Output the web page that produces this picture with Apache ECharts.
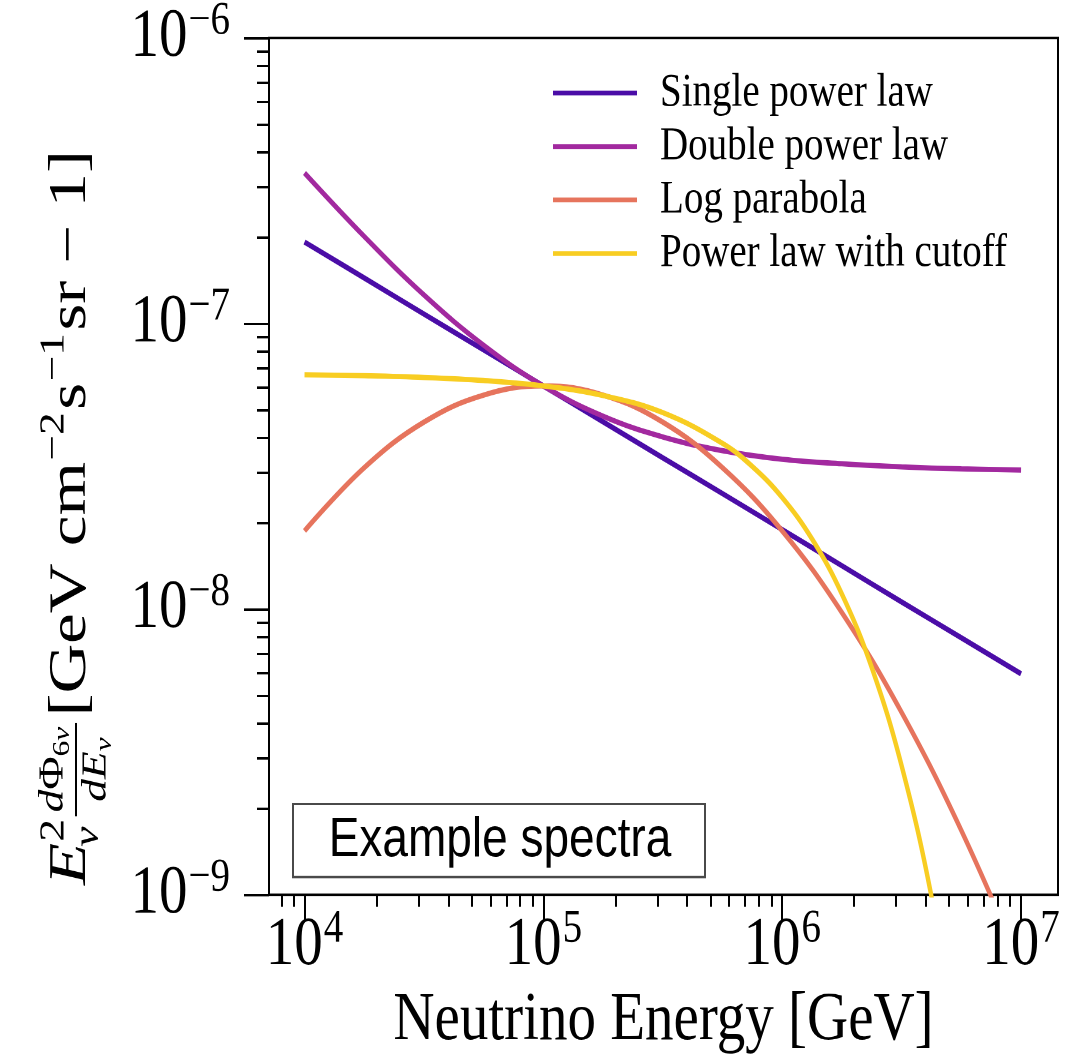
<!DOCTYPE html>
<html>
<head>
<meta charset="utf-8">
<script src="https://cdn.jsdelivr.net/npm/echarts@6/dist/echarts.min.js"></script>
<style>
html,body{margin:0;padding:0;background:#fff;overflow:hidden;}
#wrap{width:1068px;height:1055px;overflow:hidden;position:relative;}
#c{width:1068px;transform-origin:0 0;}
</style>
</head>
<body>
<div id="wrap"><div id="c"></div></div>
<script>
// ---------------- data ----------------
const seriesNames = ['Single power law', 'Double power law', 'Log parabola', 'Power law with cutoff'];
const energies = [1e4, 1.778e4, 3.162e4, 5.623e4, 1e5, 1.778e5, 3.162e5, 5.623e5, 1e6, 1.778e6, 3.162e6, 5.623e6, 1e7];
const singlePowerLaw = [1.93e-7, 1.445e-7, 1.08e-7, 8.09e-8, 6.05e-8, 4.53e-8, 3.39e-8, 2.54e-8, 1.90e-8, 1.42e-8, 1.06e-8, 7.94e-9, 5.94e-9];
const doublePowerLaw = [3.37e-7, 2.02e-7, 1.26e-7, 8.40e-8, 6.05e-8, 4.74e-8, 4.01e-8, 3.59e-8, 3.35e-8, 3.23e-8, 3.15e-8, 3.10e-8, 3.07e-8];
const logParabola = [1.88e-8, 3.13e-8, 4.52e-8, 5.62e-8, 6.05e-8, 5.62e-8, 4.52e-8, 3.13e-8, 1.88e-8, 9.73e-9, 4.35e-9, 1.68e-9, 5.6e-10];
const cutoffEnergies = [1e4, 1.778e4, 3.162e4, 5.623e4, 1e5, 1.778e5, 3.162e5, 5.623e5, 7.499e5, 1e6, 1.334e6, 1.778e6, 2.371e6, 3.162e6, 4.217e6, 5.623e6];
const powerLawCutoff = [6.62e-8, 6.57e-8, 6.48e-8, 6.32e-8, 6.05e-8, 5.60e-8, 4.88e-8, 3.81e-8, 3.16e-8, 2.46e-8, 1.76e-8, 1.13e-8, 6.25e-9, 2.83e-9, 9.86e-10, 2.42e-10];

const xMajorTicks = [1e4, 1e5, 1e6, 1e7];
const xMinorTicks = [8e3, 9e3, 2e4, 3e4, 4e4, 5e4, 6e4, 7e4, 8e4, 9e4, 2e5, 3e5, 4e5, 5e5, 6e5, 7e5, 8e5, 9e5, 2e6, 3e6, 4e6, 5e6, 6e6, 7e6, 8e6, 9e6];
const yMajorTicks = [1e-9, 1e-8, 1e-7, 1e-6];
const yMinorTicks = [2e-9, 3e-9, 4e-9, 5e-9, 6e-9, 7e-9, 8e-9, 9e-9, 2e-8, 3e-8, 4e-8, 5e-8, 6e-8, 7e-8, 8e-8, 9e-8, 2e-7, 3e-7, 4e-7, 5e-7, 6e-7, 7e-7, 8e-7, 9e-7];
const xRange = [7.1e3, 1.428e7];
const yRange = [1e-9, 1e-6];

const xAxisTitle = 'Neutrino Energy [GeV]';
const boxText = 'Example spectra';
const colors = ['#4b0da7', '#a2299f', '#e6745d', '#f8cd22'];

// ---------------- layout ----------------
const S = 1.2;                  // vertical stretch of the reference picture
const H = 1055 / S;
const sy = v => v / S;
const SERIF = '"Liberation Serif", "DejaVu Serif", serif';
const dom = document.getElementById('c');
dom.style.height = H + 'px';
dom.style.transform = 'scaleY(' + S + ')';

function pairs(xs, ys) { return xs.map((x, i) => [x, ys[i]]); }

function powLabel(v) {
  const e = Math.round(Math.log10(v));
  return '{b|10}{s|' + String(e).replace('-', '\u2212') + '}';
}
const richLabel = {
  b: {fontFamily: SERIF, fontSize: 57, lineHeight: 57, color: '#000', verticalAlign: 'bottom'},
  s: {fontFamily: SERIF, fontSize: 39, lineHeight: 39, color: '#000', verticalAlign: 'bottom', padding: [0, 0, 23, 1]}
};

// y-axis title, built from text runs
function buildYTitle() {
  const ctx = document.createElement('canvas').getContext('2d');
  const M = 53, Sm = 35, T = 24;
  const font = (size, it) => (it ? 'italic ' : '') + size + 'px ' + SERIF;
  const w = (t, size, it) => { ctx.font = font(size, it); return ctx.measureText(t).width; };
  const els = [];
  const put = (t, x, base, size, it) => {
    els.push({type: 'text', style: {text: t, x: x, y: base - 0.34 * size, font: font(size, it), fill: '#000', textAlign: 'left', textVerticalAlign: 'middle'}});
    return w(t, size, it);
  };
  let x = 0;
  x += put('E', x, 0, M, true);
  const a = put('2', x + 1, -23, Sm, false);
  const b = put('\u03BD', x - 3, 11, Sm, true);
  x += Math.max(a, b) + 3;
  const numW = w('d', Sm, true) + w('\u03A6', Sm, false) + w('6', T, false) + w('\u03BD', T, true);
  const denW = w('d', Sm, true) + w('E', Sm, true) + w('\u03BD', T, true);
  const fw = Math.max(numW, denW) + 6;
  let nx = x + (fw - numW) / 2;
  nx += put('d', nx, -24, Sm, true);
  nx += put('\u03A6', nx, -24, Sm, false);
  nx += put('6', nx, -18, T, false);
  put('\u03BD', nx, -18, T, true);
  let dx = x + (fw - denW) / 2;
  dx += put('d', dx, 19, Sm, true);
  dx += put('E', dx, 19, Sm, true);
  put('\u03BD', dx, 24, T, true);
  els.push({type: 'line', shape: {x1: x, y1: -13, x2: x + fw, y2: -13}, style: {stroke: '#000', lineWidth: 2}});
  x += fw + 5;
  x += put('[GeV cm', x, 0, M, false);
  x += put('\u22122', x + 1, -23, Sm, false) + 3;
  x += put('s', x, 0, M, false);
  x += put('\u22121', x + 1, -23, Sm, false) + 3;
  x += put('sr \u2212 1]', x, 0, M, false);
  const target = sy(885) - sy(150);
  return {type: 'group', x: 89, y: sy(885), rotation: Math.PI / 2, scaleX: target / x, scaleY: 1, children: els};
}

const chart = echarts.init(dom, null, {renderer: 'canvas', devicePixelRatio: 2});

const tickStyle = {color: '#000', width: 2};
const option = {
  animation: false,
  backgroundColor: '#fff',
  grid: {left: 269, right: 10, top: sy(38), bottom: H - sy(895), show: true, borderColor: '#000', borderWidth: 2, backgroundColor: 'transparent', outerBoundsMode: 'none', containLabel: false},
  legend: {
    orient: 'vertical', left: 548, top: sy(87) - 20, itemWidth: 84, itemHeight: 4, itemGap: sy(53.5) - 40,
    icon: 'rect', data: seriesNames,
    textStyle: {fontFamily: SERIF, fontSize: 39, lineHeight: 40, color: '#000', padding: [0, 0, 0, 18]},
    selectedMode: false
  },
  xAxis: [
    {type: 'log', logBase: 10, min: xRange[0], max: xRange[1], position: 'bottom',
     name: xAxisTitle, nameLocation: 'middle', nameGap: sy(895 + 92) - sy(895),
     nameTextStyle: {fontFamily: SERIF, fontSize: 57, color: '#000'},
     axisLine: {show: false}, splitLine: {show: false}, minorTick: {show: false},
     axisTick: {show: true, customValues: xMajorTicks, length: sy(25), lineStyle: tickStyle},
     axisLabel: {show: true, customValues: xMajorTicks, margin: sy(17), formatter: powLabel, rich: richLabel}},
    {type: 'log', logBase: 10, min: xRange[0], max: xRange[1], position: 'bottom',
     axisLine: {show: false}, splitLine: {show: false},
     axisTick: {show: true, customValues: xMinorTicks, length: sy(12), lineStyle: tickStyle},
     axisLabel: {show: false}}
  ],
  yAxis: [
    {type: 'log', logBase: 10, min: yRange[0], max: yRange[1], position: 'left',
     axisLine: {show: false}, splitLine: {show: false},
     axisTick: {show: true, customValues: yMajorTicks, length: 25, lineStyle: {color: '#000', width: 2.4 / S}},
     axisLabel: {show: true, customValues: yMajorTicks, margin: 39, formatter: powLabel, rich: richLabel}},
    {type: 'log', logBase: 10, min: yRange[0], max: yRange[1], position: 'left',
     axisLine: {show: false}, splitLine: {show: false},
     axisTick: {show: true, customValues: yMinorTicks, length: 12, lineStyle: {color: '#000', width: 2.4 / S}},
     axisLabel: {show: false}}
  ],
  graphic: [
    buildYTitle(),
    {type: 'rect', shape: {x: 293, y: sy(804), width: 412, height: sy(877) - sy(804)}, style: {fill: '#fff', stroke: '#4a4a4a', lineWidth: 2}, z: 10},
    {type: 'text', style: {text: boxText, x: 500, y: sy(841), font: '46px "Liberation Sans", Arial, sans-serif', fill: '#000', textAlign: 'center', textVerticalAlign: 'middle'}, z: 11}
  ],
  series: [
    {name: seriesNames[0], data: pairs(energies, singlePowerLaw)},
    {name: seriesNames[1], data: pairs(energies, doublePowerLaw)},
    {name: seriesNames[2], data: pairs(energies, logParabola)},
    {name: seriesNames[3], data: pairs(cutoffEnergies, powerLawCutoff)}
  ].map((s, i) => Object.assign({
    type: 'line', xAxisIndex: 0, yAxisIndex: 0, smooth: 0.4, showSymbol: false, symbol: 'none', clip: true,
    lineStyle: {color: colors[i], width: 4.4}, itemStyle: {color: colors[i]}, z: 3 + i
  }, s))
};
chart.setOption(option);
</script>
</body>
</html>
